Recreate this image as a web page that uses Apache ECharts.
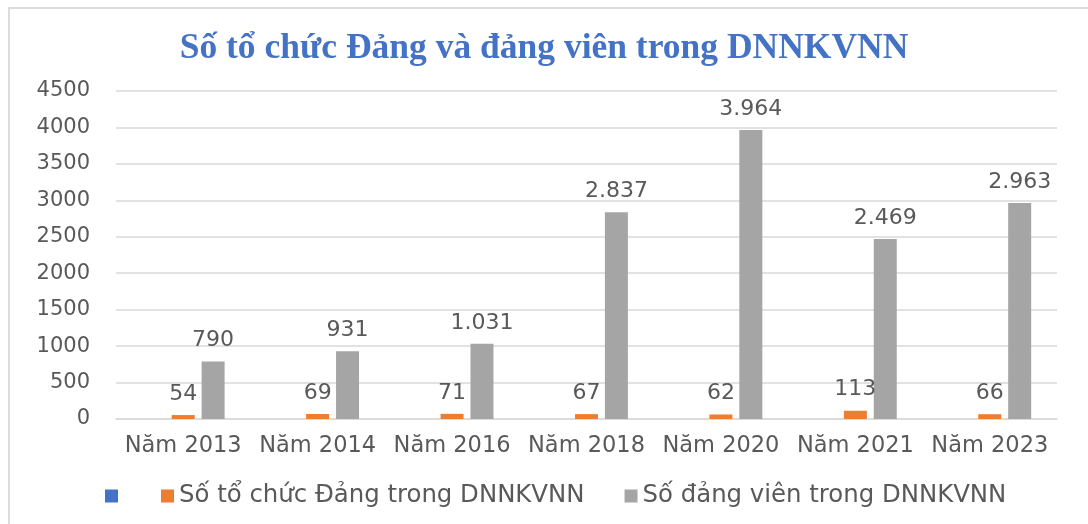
<!DOCTYPE html>
<html>
<head>
<meta charset="utf-8">
<script src="https://cdn.jsdelivr.net/npm/echarts@6/dist/echarts.min.js"></script>
<style>
html,body{margin:0;padding:0;background:#fff;}
#wrap{position:relative;width:1088px;height:524px;}
#chart{position:absolute;left:0;top:0;width:1088px;height:524px;}
#frame{position:absolute;left:8px;top:7px;right:0;bottom:0;border-top:2.5px solid #dcdcdc;border-left:2.5px solid #dcdcdc;pointer-events:none;}
</style>
</head>
<body>
<div id="wrap"><div id="chart"></div><div id="frame"></div></div>
<script>
const titleText = 'Số tổ chức Đảng và đảng viên trong DNNKVNN';
const categories = ['Năm 2013', 'Năm 2014', 'Năm 2016', 'Năm 2018', 'Năm 2020', 'Năm 2021', 'Năm 2023'];
const blankName = ' ';
const blankValues = [null, null, null, null, null, null, null];
const orgName = 'Số tổ chức Đảng trong DNNKVNN';
const orgValues = [54, 69, 71, 67, 62, 113, 66];
const memberName = 'Số đảng viên trong DNNKVNN';
const memberValues = [790, 931, 1031, 2837, 3964, 2469, 2963];
const yTicks = { min: 0, max: 4500, interval: 500 };

const FONT = 'DejaVu Sans';
const fmt = v => String(v).replace(/\B(?=(\d{3})+(?!\d))/g, '.');

const labelStyle = {
  show: true, position: 'top', distance: 10,
  color: '#595959', fontFamily: FONT, fontSize: 22,
  formatter: p => fmt(p.value)
};

const chart = echarts.init(document.getElementById('chart'), null, { renderer: 'canvas' });
chart.setOption({
  animation: false,
  backgroundColor: 'transparent',
  title: {
    text: titleText, left: 'center', top: 26,
    textStyle: { fontFamily: 'Liberation Serif', fontWeight: 'bold', fontSize: 35.5, color: '#4472C4' }
  },
  legend: [
    {
      data: [blankName], left: 100, top: 479, itemWidth: 13, itemHeight: 13, itemGap: 0,
      icon: 'rect', textStyle: { fontFamily: FONT, fontSize: 24, color: '#595959' }
    },
    {
      data: [orgName, memberName], left: 156, top: 479, itemWidth: 13, itemHeight: 13, itemGap: 40,
      icon: 'rect', textStyle: { fontFamily: FONT, fontSize: 24.4, color: '#595959' }
    }
  ],
  grid: { left: 116, right: 31, top: 91, bottom: 105, containLabel: false },
  xAxis: {
    type: 'category', data: categories,
    axisLine: { show: true, lineStyle: { color: '#d9d9d9', width: 1.5 } },
    axisTick: { show: false },
    axisLabel: { color: '#595959', fontFamily: FONT, fontSize: 22.5, margin: 16, interval: 0 }
  },
  yAxis: {
    type: 'value', min: yTicks.min, max: yTicks.max, interval: yTicks.interval,
    axisLine: { show: false }, axisTick: { show: false },
    axisLabel: { color: '#595959', fontFamily: FONT, fontSize: 21, margin: 26, formatter: v => String(v) },
    splitLine: { lineStyle: { color: '#d9d9d9', width: 1.5 } }
  },
  series: [
    { name: blankName, type: 'bar', data: blankValues, barWidth: 23, barGap: '30%', itemStyle: { color: '#4472C4' } },
    { name: orgName, type: 'bar', data: orgValues, barWidth: 23, barGap: '30%', itemStyle: { color: '#ED7D31' }, label: labelStyle },
    { name: memberName, type: 'bar', data: memberValues, barWidth: 23, barGap: '30%', itemStyle: { color: '#A5A5A5' }, label: labelStyle }
  ]
});
</script>
</body>
</html>
